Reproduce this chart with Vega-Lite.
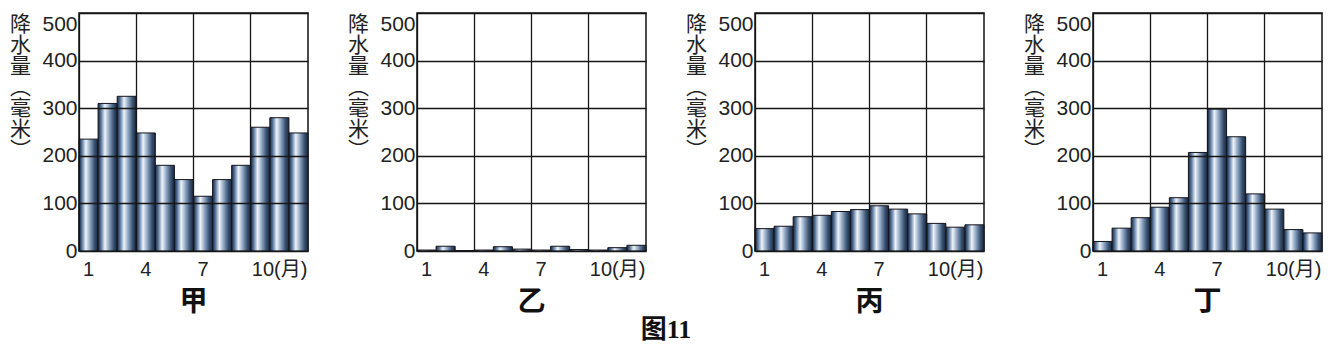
{
  "$schema": "https://vega.github.io/schema/vega-lite/v6.json",
  "padding": {"left": 8, "top": 12, "right": 5, "bottom": 3},
  "data": {"values": [
    {"s": "甲", "m": 1, "v": 235}, {"s": "甲", "m": 2, "v": 310}, {"s": "甲", "m": 3, "v": 325}, {"s": "甲", "m": 4, "v": 248},
    {"s": "甲", "m": 5, "v": 180}, {"s": "甲", "m": 6, "v": 150}, {"s": "甲", "m": 7, "v": 115}, {"s": "甲", "m": 8, "v": 150},
    {"s": "甲", "m": 9, "v": 180}, {"s": "甲", "m": 10, "v": 260}, {"s": "甲", "m": 11, "v": 280}, {"s": "甲", "m": 12, "v": 248},
    {"s": "乙", "m": 1, "v": 2}, {"s": "乙", "m": 2, "v": 10}, {"s": "乙", "m": 3, "v": 1}, {"s": "乙", "m": 4, "v": 2},
    {"s": "乙", "m": 5, "v": 9}, {"s": "乙", "m": 6, "v": 4}, {"s": "乙", "m": 7, "v": 2}, {"s": "乙", "m": 8, "v": 10},
    {"s": "乙", "m": 9, "v": 3}, {"s": "乙", "m": 10, "v": 2}, {"s": "乙", "m": 11, "v": 7}, {"s": "乙", "m": 12, "v": 12},
    {"s": "丙", "m": 1, "v": 47}, {"s": "丙", "m": 2, "v": 52}, {"s": "丙", "m": 3, "v": 72}, {"s": "丙", "m": 4, "v": 75},
    {"s": "丙", "m": 5, "v": 83}, {"s": "丙", "m": 6, "v": 87}, {"s": "丙", "m": 7, "v": 95}, {"s": "丙", "m": 8, "v": 88},
    {"s": "丙", "m": 9, "v": 78}, {"s": "丙", "m": 10, "v": 58}, {"s": "丙", "m": 11, "v": 50}, {"s": "丙", "m": 12, "v": 55},
    {"s": "丁", "m": 1, "v": 20}, {"s": "丁", "m": 2, "v": 48}, {"s": "丁", "m": 3, "v": 70}, {"s": "丁", "m": 4, "v": 92},
    {"s": "丁", "m": 5, "v": 112}, {"s": "丁", "m": 6, "v": 207}, {"s": "丁", "m": 7, "v": 298}, {"s": "丁", "m": 8, "v": 240},
    {"s": "丁", "m": 9, "v": 120}, {"s": "丁", "m": 10, "v": 88}, {"s": "丁", "m": 11, "v": 45}, {"s": "丁", "m": 12, "v": 38}
  ]},
  "facet": {
    "column": {
      "field": "s", "type": "nominal", "sort": ["甲", "乙", "丙", "丁"], "title": null,
      "header": {
        "labelOrient": "bottom",
        "labelFont": "Liberation Serif, Noto Sans CJK SC",
        "labelFontSize": 28,
        "labelFontWeight": "bold",
        "labelColor": "#111",
        "labelPadding": 38
      }
    }
  },
  "spacing": 109,
  "bounds": "flush",
  "resolve": {"axis": {"x": "independent", "y": "independent"}},
  "spec": {
    "width": 229,
    "height": 238,
    "mark": {
      "type": "bar",
      "stroke": "#15151c",
      "strokeWidth": 1,
      "fill": {
        "gradient": "linear", "x1": 0, "y1": 0, "x2": 1, "y2": 0,
        "stops": [
          {"offset": 0, "color": "#1b2740"},
          {"offset": 0.14, "color": "#4f6e95"},
          {"offset": 0.36, "color": "#eef4fb"},
          {"offset": 0.58, "color": "#8ea5c1"},
          {"offset": 0.82, "color": "#37506f"},
          {"offset": 1, "color": "#1b2740"}
        ]
      }
    },
    "encoding": {
      "x": {
        "field": "m", "type": "ordinal",
        "scale": {"paddingInner": 0, "paddingOuter": 0},
        "axis": {
          "title": null,
          "values": [1, 4, 7, 10],
          "bandPosition": 0,
          "grid": true,
          "gridColor": "#161616",
          "gridWidth": 1.3,
          "gridOpacity": 1,
          "ticks": false,
          "domain": false,
          "labelAngle": 0,
          "labelFont": "Liberation Sans, Noto Sans CJK SC",
          "labelFontSize": 20,
          "labelColor": "#222",
          "labelPadding": 8,
          "labelBaseline": "top",
          "labelExpr": "datum.value == 10 ? '10(月)' : datum.label",
          "labelAlign": {"condition": {"test": "datum.value == 10", "value": "left"}, "value": "center"},
          "labelOffset": {"condition": {"test": "datum.value == 10", "value": -8.5}, "value": 0},
          "zindex": 1
        }
      },
      "y": {
        "field": "v", "type": "quantitative",
        "scale": {"domain": [0, 500], "nice": false},
        "axis": {
          "values": [0, 100, 200, 300, 400, 500],
          "grid": true,
          "gridColor": "#161616",
          "gridWidth": 1.3,
          "gridOpacity": 1,
          "ticks": false,
          "domain": false,
          "labelFont": "Liberation Sans",
          "labelFontSize": 21,
          "labelColor": "#222",
          "labelPadding": 2,
          "labelFlush": false,
          "labelBaseline": {"condition": {"test": "datum.value == 500", "value": "top"}, "value": "middle"},
          "title": ["降", "水", "量", "︵", "毫", "米", "︶"],
          "titleAngle": 0,
          "titleAlign": "center",
          "titleBaseline": "top",
          "titleX": -59,
          "titleY": 0,
          "titleFont": "Noto Sans CJK SC",
          "titleFontSize": 21,
          "titleFontWeight": "normal",
          "titleLineHeight": 21,
          "titleColor": "#222",
          "zindex": 1
        }
      }
    }
  },
  "title": {
    "text": "图11",
    "orient": "bottom",
    "anchor": "middle",
    "offset": 0,
    "font": "Liberation Serif, Noto Sans CJK SC",
    "fontSize": 26,
    "fontWeight": "bold",
    "color": "#111"
  },
  "config": {
    "view": {"stroke": "#111", "strokeWidth": 1.5},
    "background": "white"
  }
}
